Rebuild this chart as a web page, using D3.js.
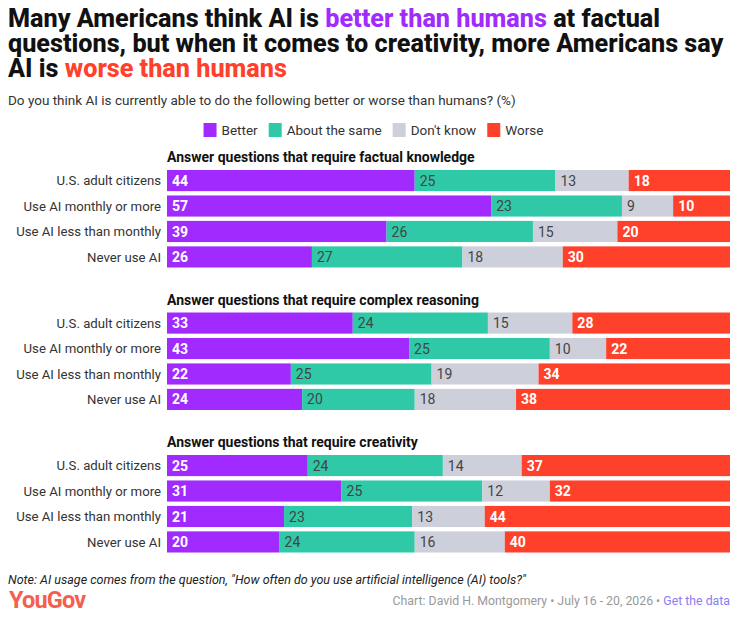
<!DOCTYPE html>
<html>
<head>
<meta charset="utf-8">
<script src="https://cdn.jsdelivr.net/npm/d3@7"></script>
<style>
  body { margin: 0; background: #fff; }
  svg { display: block; font-family: Roboto, "Noto Sans", sans-serif; }
</style>
</head>
<body>
<svg id="chart" width="747" height="619"></svg>
<script>
// questions (facets), groups (rows), response categories
const questions = [
  "Answer questions that require factual knowledge",
  "Answer questions that require complex reasoning",
  "Answer questions that require creativity"
];
const groups = ["U.S. adult citizens", "Use AI monthly or more", "Use AI less than monthly", "Never use AI"];
const responses = ["Better", "About the same", "Don't know", "Worse"];
const colors = ["#A12BFF", "#2FC9A8", "#CDD0DA", "#FF412C"];

// one value per question x group, in order
const better   = [44, 57, 39, 26,  33, 43, 22, 24,  25, 31, 21, 20];
const same     = [25, 23, 26, 27,  24, 25, 25, 20,  24, 25, 23, 24];
const dontKnow = [13,  9, 15, 18,  15, 10, 19, 18,  14, 12, 13, 16];
const worse    = [18, 10, 20, 30,  28, 22, 34, 38,  37, 32, 44, 40];

(() => {
  const width = 747;
  const left = 167, right = 730;
  const firstTop = 170, facetStep = 142.5;

  const svg = d3.select("#chart");

  // title, one text per line
  const titleLines = [
    [["Many Americans think AI is ", "#111"], ["better than humans", "#A12BFF"], [" at factual", "#111"]],
    [["questions, but when it comes to creativity, more Americans say", "#111"]],
    [["AI is ", "#111"], ["worse than humans", "#FF412C"]]
  ];
  titleLines.forEach((line, i) => {
    const t = svg.append("text")
      .attr("x", 8)
      .attr("y", 27 + i * 25)
      .style("font-size", "25.2px")
      .style("font-weight", 800);
    line.forEach(([s, c]) => t.append("tspan").attr("fill", c).text(s));
  });

  svg.append("text")
    .attr("x", 8)
    .attr("y", 105)
    .attr("fill", "#333")
    .style("font-size", "13.5px")
    .text("Do you think AI is currently able to do the following better or worse than humans? (%)");

  // legend, centred on the page
  const legend = svg.append("g");
  let lx = 0;
  responses.forEach((r, i) => {
    const item = legend.append("g").attr("transform", `translate(${lx},0)`);
    item.append("rect")
      .attr("x", 0).attr("y", 123)
      .attr("width", 13).attr("height", 14)
      .attr("fill", colors[i]);
    const t = item.append("text")
      .attr("x", 18).attr("y", 134.5)
      .attr("fill", "#333")
      .style("font-size", "13.5px")
      .text(r);
    lx += 18 + t.node().getComputedTextLength() + 11;
  });
  legend.attr("transform", `translate(${(width - (lx - 11)) / 2},0)`);

  const y = d3.scaleBand()
    .domain(groups)
    .range([0, 97.5])
    .paddingInner(0.17);

  questions.forEach((q, qi) => {
    const top = firstTop + qi * facetStep;
    const g = svg.append("g").attr("transform", `translate(0,${top})`);

    g.append("text")
      .attr("x", left)
      .attr("y", -8)
      .attr("fill", "#111")
      .style("font-size", "14px")
      .style("font-weight", 700)
      .text(q);

    groups.forEach((grp, gi) => {
      const idx = qi * 4 + gi;
      const vals = [better[idx], same[idx], dontKnow[idx], worse[idx]];
      const x = d3.scaleLinear().domain([0, d3.sum(vals)]).range([left, right]);
      const stacked = d3.cumsum(vals);
      const segs = vals.map((v, k) => ({ v, k, x0: k ? stacked[k - 1] : 0, x1: stacked[k] }));

      g.append("text")
        .attr("x", left - 6)
        .attr("y", y(grp) + y.bandwidth() / 2)
        .attr("dy", "0.35em")
        .attr("text-anchor", "end")
        .attr("fill", "#333")
        .style("font-size", "13.2px")
        .text(grp);

      const row = g.append("g");
      row.selectAll("rect")
        .data(segs)
        .join("rect")
        .attr("x", d => x(d.x0))
        .attr("y", y(grp))
        .attr("width", d => x(d.x1) - x(d.x0))
        .attr("height", y.bandwidth())
        .attr("fill", d => colors[d.k]);

      row.selectAll("text")
        .data(segs)
        .join("text")
        .attr("x", d => x(d.x0) + 5)
        .attr("y", y(grp) + y.bandwidth() / 2)
        .attr("dy", "0.36em")
        .attr("fill", d => (d.k === 0 || d.k === 3) ? "#fff" : "#444")
        .style("font-size", "14px")
        .style("font-weight", d => (d.k === 0 || d.k === 3) ? 700 : 400)
        .text(d => d.v);
    });
  });

  // footer
  svg.append("text")
    .attr("x", 8)
    .attr("y", 584)
    .attr("fill", "#222")
    .style("font-size", "12.5px")
    .style("font-style", "italic")
    .text("Note: AI usage comes from the question, \"How often do you use artificial intelligence (AI) tools?\"");

  svg.append("text")
    .attr("x", 9)
    .attr("y", 608)
    .attr("fill", "#F4604F")
    .style("font-size", "23.5px")
    .style("font-weight", 700)
    .style("letter-spacing", "-0.8px")
    .text("YouGov");

  const credit = svg.append("text")
    .attr("x", right)
    .attr("y", 605)
    .attr("text-anchor", "end")
    .style("font-size", "12.3px")
    .attr("fill", "#999");
  credit.append("tspan").text("Chart: David H. Montgomery • July 16 - 20, 2026 • ");
  credit.append("tspan").attr("fill", "#8B7BF2").text("Get the data");
})();
</script>
</body>
</html>
